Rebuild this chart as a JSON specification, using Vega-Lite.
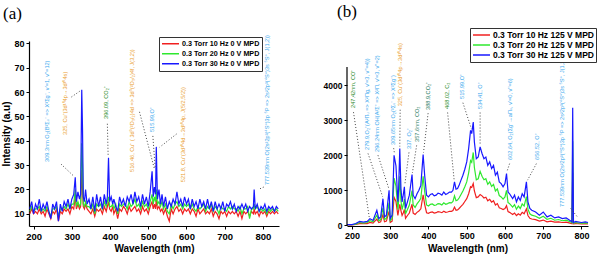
{
  "$schema": "https://vega.github.io/schema/vega-lite/v6.json",
  "background": "white",
  "padding": {"left": 1, "top": 2, "right": 0, "bottom": 0},
  "spacing": 68,
  "bounds": "flush",
  "config": {
    "font": "Liberation Sans",
    "view": {"stroke": null},
    "axis": {
      "grid": false,
      "labelFont": "Liberation Sans",
      "labelFontWeight": "bold",
      "labelColor": "black",
      "labelOverlap": false,
      "titleFont": "Liberation Sans",
      "titleFontWeight": "bold",
      "titleColor": "black",
      "domainColor": "black",
      "domainWidth": 1.2,
      "tickColor": "black",
      "tickWidth": 1,
      "tickSize": 3,
      "labelPadding": 2
    },
    "legend": {
      "labelFont": "Liberation Sans",
      "labelFontWeight": "bold",
      "labelColor": "black",
      "symbolType": "stroke",
      "symbolStrokeWidth": 1.5,
      "strokeColor": "#333333",
      "fillColor": "white",
      "padding": 2,
      "rowPadding": 0,
      "labelOffset": 2
    }
  },
  "resolve": {
    "scale": {"color": "independent", "fill": "independent"},
    "legend": {"color": "independent"}
  },
  "hconcat": [
    {
      "width": 250,
      "height": 185,
      "title": {"text": "(a)", "anchor": "start", "frame": "group", "font": "Liberation Serif", "fontSize": 17, "fontWeight": "normal", "color": "black", "dx": -26, "offset": 12},
      "resolve": {"scale": {"x": "independent", "y": "independent"}, "axis": {"x": "independent", "y": "independent"}},
      "layer": [
        {
          "data": {"values": [
            {"w":190,"h10":10,"h20":11,"h30":12},{"w":195,"h10":12,"h20":13,"h30":15},{"w":200,"h10":10,"h20":11,"h30":10},
            {"w":205,"h10":11,"h20":12,"h30":14},{"w":210,"h10":10,"h20":12,"h30":12},{"w":215,"h10":12,"h20":13,"h30":16},
            {"w":220,"h10":10,"h20":11,"h30":11},{"w":225,"h10":11,"h20":12,"h30":14},{"w":230,"h10":9,"h20":11,"h30":12},
            {"w":235,"h10":12,"h20":13,"h30":15},{"w":240,"h10":10,"h20":11,"h30":11},{"w":245,"h10":8,"h20":9,"h30":8},
            {"w":250,"h10":11,"h20":12,"h30":14},{"w":255,"h10":10,"h20":12,"h30":12},{"w":260,"h10":12,"h20":13,"h30":15},
            {"w":265,"h10":7,"h20":9,"h30":7},{"w":270,"h10":11,"h20":12,"h30":14},{"w":275,"h10":10,"h20":12,"h30":11},
            {"w":280,"h10":12,"h20":13,"h30":15},{"w":285,"h10":11,"h20":12,"h30":13},{"w":290,"h10":12,"h20":14,"h30":16},
            {"w":295,"h10":10,"h20":12,"h30":12},{"w":300,"h10":13,"h20":14,"h30":16},{"w":305,"h10":12,"h20":14,"h30":18},
            {"w":309,"h10":17,"h20":20,"h30":25},{"w":312,"h10":12,"h20":13,"h30":15},{"w":316,"h10":14,"h20":15,"h30":19},
            {"w":320,"h10":12,"h20":13,"h30":16},{"w":323,"h10":13,"h20":14,"h30":18},{"w":326,"h10":28,"h20":39,"h30":61},
            {"w":328,"h10":20,"h20":30,"h30":45},{"w":330,"h10":13,"h20":14,"h30":17},{"w":333,"h10":12,"h20":13,"h30":15},
            {"w":336,"h10":14,"h20":15,"h30":20},{"w":340,"h10":12,"h20":13,"h30":14},{"w":345,"h10":11,"h20":13,"h30":16},
            {"w":350,"h10":10,"h20":12,"h30":12},{"w":355,"h10":12,"h20":14,"h30":17},{"w":360,"h10":9,"h20":10,"h30":11},
            {"w":365,"h10":12,"h20":14,"h30":18},{"w":370,"h10":11,"h20":13,"h30":13},{"w":375,"h10":12,"h20":14,"h30":17},
            {"w":380,"h10":10,"h20":12,"h30":12},{"w":385,"h10":13,"h20":15,"h30":18},{"w":390,"h10":11,"h20":13,"h30":14},
            {"w":393,"h10":13,"h20":15,"h30":17},{"w":396,"h10":15,"h20":17,"h30":33},{"w":399,"h10":12,"h20":13,"h30":15},
            {"w":403,"h10":11,"h20":13,"h30":17},{"w":407,"h10":13,"h20":14,"h30":14},{"w":410,"h10":10,"h20":12,"h30":16},
            {"w":415,"h10":12,"h20":14,"h30":13},{"w":420,"h10":8,"h20":10,"h30":11},{"w":425,"h10":12,"h20":14,"h30":17},
            {"w":430,"h10":11,"h20":13,"h30":14},{"w":435,"h10":13,"h20":14,"h30":16},{"w":440,"h10":12,"h20":14,"h30":13},
            {"w":445,"h10":10,"h20":12,"h30":17},{"w":450,"h10":13,"h20":15,"h30":15},{"w":455,"h10":11,"h20":13,"h30":18},
            {"w":460,"h10":12,"h20":14,"h30":14},{"w":465,"h10":13,"h20":16,"h30":19},{"w":470,"h10":11,"h20":13,"h30":15},
            {"w":475,"h10":12,"h20":14,"h30":17},{"w":480,"h10":10,"h20":12,"h30":13},{"w":485,"h10":13,"h20":15,"h30":18},
            {"w":490,"h10":11,"h20":13,"h30":14},{"w":495,"h10":12,"h20":14,"h30":17},{"w":500,"h10":10,"h20":12,"h30":13},
            {"w":505,"h10":13,"h20":15,"h30":19},{"w":510,"h10":15,"h20":18,"h30":27.5},{"w":513,"h10":12,"h20":14,"h30":17},
            {"w":516,"h10":14,"h20":17,"h30":21},{"w":519,"h10":12,"h20":15,"h30":18},{"w":521,"h10":16,"h20":20,"h30":37.5},
            {"w":524,"h10":12,"h20":14,"h30":16},{"w":528,"h10":13,"h20":15,"h30":20},{"w":532,"h10":11,"h20":13,"h30":14},
            {"w":536,"h10":12,"h20":15,"h30":18},{"w":540,"h10":10,"h20":12,"h30":13},{"w":545,"h10":12,"h20":14,"h30":17},
            {"w":550,"h10":9,"h20":11,"h30":12},{"w":555,"h10":7,"h20":10,"h30":15},{"w":560,"h10":12,"h20":14,"h30":13},
            {"w":565,"h10":10,"h20":12,"h30":16},{"w":570,"h10":12,"h20":14,"h30":14},{"w":575,"h10":13,"h20":15,"h30":19},
            {"w":580,"h10":11,"h20":13,"h30":14},{"w":585,"h10":12,"h20":14,"h30":16},{"w":590,"h10":10,"h20":12,"h30":13},
            {"w":595,"h10":12,"h20":14,"h30":17},{"w":600,"h10":11,"h20":13,"h30":14},{"w":605,"h10":12,"h20":14,"h30":16},
            {"w":610,"h10":10,"h20":12,"h30":12},{"w":615,"h10":12,"h20":14,"h30":16},{"w":620,"h10":11,"h20":12,"h30":13},
            {"w":625,"h10":9,"h20":11,"h30":15},{"w":630,"h10":12,"h20":13,"h30":12},{"w":635,"h10":10,"h20":12,"h30":16},
            {"w":640,"h10":11,"h20":13,"h30":13},{"w":645,"h10":12,"h20":14,"h30":15},{"w":650,"h10":10,"h20":11,"h30":12},
            {"w":655,"h10":11,"h20":13,"h30":16},{"w":660,"h10":10,"h20":12,"h30":12},{"w":665,"h10":12,"h20":14,"h30":15},
            {"w":670,"h10":9,"h20":11,"h30":11},{"w":675,"h10":11,"h20":13,"h30":15},{"w":680,"h10":10,"h20":12,"h30":12},
            {"w":685,"h10":8,"h20":10,"h30":14},{"w":690,"h10":11,"h20":13,"h30":12},{"w":695,"h10":10,"h20":12,"h30":15},
            {"w":700,"h10":11,"h20":12,"h30":11},{"w":705,"h10":9,"h20":11,"h30":14},{"w":710,"h10":11,"h20":13,"h30":13},
            {"w":715,"h10":10,"h20":12,"h30":15},{"w":720,"h10":11,"h20":13,"h30":12},{"w":725,"h10":10,"h20":12,"h30":14},
            {"w":730,"h10":11,"h20":12,"h30":11},{"w":735,"h10":9,"h20":11,"h30":13},{"w":740,"h10":11,"h20":13,"h30":12},
            {"w":745,"h10":8,"h20":10,"h30":14},{"w":750,"h10":11,"h20":12,"h30":12},{"w":755,"h10":10,"h20":12,"h30":14},
            {"w":760,"h10":11,"h20":13,"h30":11},{"w":765,"h10":9,"h20":8,"h30":13},{"w":770,"h10":11,"h20":12,"h30":12},
            {"w":775,"h10":10,"h20":12,"h30":13},{"w":777,"h10":12,"h20":14,"h30":20},{"w":780,"h10":10,"h20":12,"h30":12},
            {"w":785,"h10":11,"h20":13,"h30":14},{"w":790,"h10":9,"h20":11,"h30":11},{"w":795,"h10":11,"h20":12,"h30":13},
            {"w":800,"h10":10,"h20":11,"h30":12},{"w":805,"h10":11,"h20":12,"h30":14},{"w":810,"h10":9,"h20":10,"h30":11},
            {"w":815,"h10":11,"h20":12,"h30":13},{"w":820,"h10":10,"h20":11,"h30":12},{"w":825,"h10":11,"h20":12,"h30":13},
            {"w":830,"h10":10,"h20":11,"h30":11},{"w":835,"h10":11,"h20":12,"h30":13},{"w":840,"h10":10,"h20":11,"h30":12}
          ]},
          "transform": [{"fold": ["h10", "h20", "h30"], "as": ["s", "v"]}],
          "mark": {"type": "line", "strokeWidth": 1.2},
          "encoding": {
            "x": {"field": "w", "type": "quantitative", "title": "Wavelength (nm)",
                  "scale": {"domain": [188, 842], "nice": false, "zero": false},
                  "axis": {"values": [200, 300, 400, 500, 600, 700, 800], "format": "d", "labelFontSize": 9.5, "titleFontSize": 10, "titlePadding": 3}},
            "y": {"field": "v", "type": "quantitative", "title": "Intensity (a.u)",
                  "scale": {"domain": [5, 81], "nice": false, "zero": false},
                  "axis": {"values": [10, 20, 30, 40, 50, 60, 70, 80], "format": "d", "labelOverlap": false, "labelFontSize": 9, "titleFontSize": 10, "titlePadding": 2}},
            "color": {"field": "s", "type": "nominal",
                      "scale": {"domain": ["h10", "h20", "h30"], "range": ["#f02020", "#2ee82e", "#1818ff"]},
                      "legend": {"title": null, "orient": "none", "legendX": 130, "legendY": -4,
                                 "labelExpr": "'0.3 Torr ' + slice(datum.label, 1) + ' Hz 0 V MPD'",
                                 "labelFontSize": 7.2, "symbolSize": 289, "clipHeight": 9.3}}
          }
        },
        {
          "data": {"name": "notesA", "values": [
            {"t": "309.3nm O₂(B³Σᵤ⁻ => X³Σg⁻, v'=1, v''=12)", "k": "O", "tx": 235, "ty": 31.3, "x1": 272, "y1": 30.4, "x2": 305, "y2": 25.5},
            {"t": "325, Cu⁺(3d¹⁰4p→3d¹⁰4s)", "k": "Cu", "tx": 282, "ty": 42.4, "x1": 299, "y1": 58, "x2": 322, "y2": 60.5},
            {"t": "396.09, CO₂⁺", "k": "C", "tx": 390, "ty": 49, "x1": 393, "y1": 47, "x2": 395, "y2": 34},
            {"t": "516.46, Cu⁺ ( 3d⁹(²D₃/₂)4d => 3d⁹(²D₃/₂)4f, J(3,2))", "k": "Cu", "tx": 457, "ty": 27.2, "x1": 477, "y1": 51.9, "x2": 516, "y2": 28.5},
            {"t": "515.99,O⁺", "k": "O", "tx": 511, "ty": 43.6, "x1": 512, "y1": 42, "x2": 518, "y2": 29},
            {"t": "521.8, Cu⁺(3d¹⁰4d→3d¹⁰4p, J(5/2,5/2))", "k": "Cu", "tx": 590, "ty": 23, "x1": 574, "y1": 42.8, "x2": 530, "y2": 37.4},
            {"t": "777.539nm O(2s²2p³(⁴S°)3p ⁵P => 2s²2p³(⁴S°)3s ⁵S°, J(1,2))", "k": "O", "tx": 811, "ty": 21.8, "x1": 802, "y1": 21, "x2": 788, "y2": 20}
          ]},
          "mark": {"type": "rule", "strokeDash": [1, 2], "color": "#444444", "strokeWidth": 1},
          "encoding": {
            "x": {"field": "x1", "type": "quantitative", "axis": null, "scale": {"domain": [188, 842], "nice": false, "zero": false}},
            "y": {"field": "y1", "type": "quantitative", "axis": null, "scale": {"domain": [5, 81], "nice": false, "zero": false}},
            "x2": {"field": "x2"},
            "y2": {"field": "y2"}
          }
        },
        {
          "data": {"name": "notesA"},
          "mark": {"type": "text", "angle": 270, "align": "left", "baseline": "middle", "fontSize": 5.6, "font": "Liberation Sans"},
          "encoding": {
            "x": {"field": "tx", "type": "quantitative", "axis": null, "scale": {"domain": [188, 842], "nice": false, "zero": false}},
            "y": {"field": "ty", "type": "quantitative", "axis": null, "scale": {"domain": [5, 81], "nice": false, "zero": false}},
            "text": {"field": "t"},
            "fill": {"field": "k", "type": "nominal", "legend": null,
                     "scale": {"domain": ["O", "Cu", "C", "T"], "range": ["#3aa8ee", "#eaa030", "#1f8a1f", "#267a5e"]}}
          }
        }
      ]
    },
    {
      "width": 241,
      "height": 185,
      "title": {"text": "(b)", "anchor": "start", "frame": "group", "font": "Liberation Serif", "fontSize": 17, "fontWeight": "normal", "color": "black", "dx": -10, "offset": 7},
      "resolve": {"scale": {"x": "independent", "y": "independent"}, "axis": {"x": "independent", "y": "independent"}},
      "layer": [
        {
          "data": {"values": [
            {"w":187,"h10":10,"h20":15,"h30":20},{"w":200,"h10":10,"h20":15,"h30":20},{"w":210,"h10":25,"h20":35,"h30":50},
            {"w":220,"h10":50,"h20":80,"h30":110},{"w":230,"h10":45,"h20":65,"h30":90},{"w":240,"h10":50,"h20":80,"h30":110},
            {"w":247,"h10":80,"h20":130,"h30":190},{"w":255,"h10":60,"h20":100,"h30":140},{"w":265,"h10":180,"h20":290,"h30":430},
            {"w":270,"h10":80,"h20":130,"h30":190},{"w":275,"h10":100,"h20":165,"h30":240},{"w":281,"h10":300,"h20":500,"h30":760},
            {"w":285,"h10":100,"h20":165,"h30":240},{"w":290,"h10":120,"h20":200,"h30":290},{"w":297,"h10":400,"h20":650,"h30":1000},
            {"w":300,"h10":80,"h20":130,"h30":190},{"w":305,"h10":120,"h20":200,"h30":290},{"w":310,"h10":800,"h20":1350,"h30":2000},
            {"w":315,"h10":680,"h20":1120,"h30":1700},{"w":320,"h10":280,"h20":450,"h30":670},{"w":322,"h10":420,"h20":700,"h30":1050},
            {"w":325,"h10":600,"h20":1400,"h30":2190},{"w":328,"h10":420,"h20":700,"h30":1050},{"w":331,"h10":280,"h20":450,"h30":670},
            {"w":334,"h10":350,"h20":580,"h30":860},{"w":337,"h10":450,"h20":750,"h30":1100},{"w":340,"h10":200,"h20":330,"h30":480},
            {"w":345,"h10":280,"h20":450,"h30":670},{"w":350,"h10":350,"h20":580,"h30":860},{"w":357,"h10":600,"h20":990,"h30":1450},
            {"w":360,"h10":350,"h20":580,"h30":860},{"w":365,"h10":310,"h20":510,"h30":760},{"w":370,"h10":370,"h20":610,"h30":900},
            {"w":375,"h10":410,"h20":680,"h30":1000},{"w":380,"h10":470,"h20":770,"h30":1140},{"w":386,"h10":870,"h20":1400,"h30":2020},
            {"w":390,"h10":600,"h20":970,"h30":1430},{"w":395,"h10":360,"h20":580,"h30":860},{"w":400,"h10":340,"h20":550,"h30":810},
            {"w":405,"h10":370,"h20":600,"h30":880},{"w":410,"h10":380,"h20":610,"h30":900},{"w":415,"h10":350,"h20":570,"h30":840},
            {"w":420,"h10":360,"h20":580,"h30":860},{"w":425,"h10":390,"h20":620,"h30":920},{"w":430,"h10":380,"h20":610,"h30":900},
            {"w":435,"h10":360,"h20":580,"h30":860},{"w":440,"h10":400,"h20":640,"h30":950},{"w":445,"h10":370,"h20":600,"h30":880},
            {"w":450,"h10":380,"h20":620,"h30":910},{"w":455,"h10":400,"h20":650,"h30":950},{"w":460,"h10":400,"h20":640,"h30":950},
            {"w":464,"h10":420,"h20":680,"h30":1000},{"w":468,"h10":520,"h20":840,"h30":1240},{"w":472,"h10":430,"h20":700,"h30":1030},
            {"w":476,"h10":440,"h20":720,"h30":1050},{"w":480,"h10":480,"h20":780,"h30":1140},{"w":485,"h10":540,"h20":880,"h30":1290},
            {"w":490,"h10":600,"h20":980,"h30":1430},{"w":495,"h10":680,"h20":1100,"h30":1600},{"w":500,"h10":760,"h20":1240,"h30":1810},
            {"w":505,"h10":900,"h20":1500,"h30":2190},{"w":510,"h10":1100,"h20":1850,"h30":2710},{"w":513,"h10":1080,"h20":1800,"h30":2620},
            {"w":517,"h10":1190,"h20":2080,"h30":2950},{"w":520,"h10":980,"h20":1650,"h30":2380},{"w":525,"h10":790,"h20":1300,"h30":1900},
            {"w":530,"h10":810,"h20":1330,"h30":1950},{"w":535,"h10":880,"h20":1540,"h30":2240},{"w":540,"h10":840,"h20":1400,"h30":2050},
            {"w":545,"h10":780,"h20":1300,"h30":1900},{"w":550,"h10":800,"h20":1330,"h30":1950},{"w":555,"h10":700,"h20":1170,"h30":1710},
            {"w":560,"h10":740,"h20":1240,"h30":1810},{"w":565,"h10":660,"h20":1110,"h30":1620},{"w":570,"h10":700,"h20":1170,"h30":1710},
            {"w":575,"h10":580,"h20":980,"h30":1430},{"w":580,"h10":620,"h20":1040,"h30":1520},{"w":585,"h10":500,"h20":850,"h30":1240},
            {"w":590,"h10":480,"h20":810,"h30":1190},{"w":595,"h10":450,"h20":750,"h30":1100},{"w":600,"h10":480,"h20":810,"h30":1190},
            {"w":604,"h10":560,"h20":1000,"h30":1480},{"w":608,"h10":390,"h20":650,"h30":950},{"w":612,"h10":370,"h20":620,"h30":900},
            {"w":620,"h10":310,"h20":520,"h30":760},{"w":625,"h10":350,"h20":590,"h30":860},{"w":630,"h10":280,"h20":460,"h30":670},
            {"w":635,"h10":330,"h20":550,"h30":810},{"w":640,"h10":290,"h20":480,"h30":710},{"w":645,"h10":370,"h20":610,"h30":900},
            {"w":650,"h10":330,"h20":550,"h30":810},{"w":656,"h10":470,"h20":820,"h30":1240},{"w":660,"h10":280,"h20":460,"h30":670},
            {"w":665,"h10":200,"h20":330,"h30":480},{"w":670,"h10":180,"h20":290,"h30":430},{"w":680,"h10":160,"h20":260,"h30":380},
            {"w":690,"h10":120,"h20":200,"h30":290},{"w":700,"h10":150,"h20":260,"h30":380},{"w":710,"h10":100,"h20":170,"h30":240},
            {"w":720,"h10":120,"h20":200,"h30":290},{"w":730,"h10":90,"h20":145,"h30":210},{"w":740,"h10":100,"h20":165,"h30":240},
            {"w":750,"h10":80,"h20":130,"h30":190},{"w":760,"h10":90,"h20":145,"h30":210},{"w":770,"h10":60,"h20":100,"h30":140},
            {"w":775,"h10":45,"h20":70,"h30":100},{"w":777,"h10":1500,"h20":2400,"h30":3360},{"w":779,"h10":40,"h20":60,"h30":80},
            {"w":785,"h10":50,"h20":80,"h30":110},{"w":790,"h10":45,"h20":70,"h30":100},{"w":800,"h10":40,"h20":60,"h30":80},
            {"w":810,"h10":45,"h20":70,"h30":100},{"w":817,"h10":40,"h20":60,"h30":80}
          ]},
          "transform": [{"fold": ["h10", "h20", "h30"], "as": ["s", "v"]}],
          "mark": {"type": "line", "strokeWidth": 1.2},
          "encoding": {
            "x": {"field": "w", "type": "quantitative", "title": "Wavelength (nm)",
                  "scale": {"domain": [187, 817], "nice": false, "zero": false},
                  "axis": {"values": [200, 300, 400, 500, 600, 700, 800], "format": "d", "labelFontSize": 9, "titleFontSize": 10, "titlePadding": 3}},
            "y": {"field": "v", "type": "quantitative", "title": null,
                  "scale": {"domain": [-20, 5263], "nice": false, "zero": false},
                  "axis": {"values": [0, 1000, 2000, 3000, 4000], "format": "d", "domain": false, "labelFontSize": 8.5}},
            "color": {"field": "s", "type": "nominal",
                      "scale": {"domain": ["h10", "h20", "h30"], "range": ["#f02020", "#2ee82e", "#1818ff"]},
                      "legend": {"title": null, "orient": "none", "legendX": 123, "legendY": -13,
                                 "labelExpr": "'0.3 Torr ' + slice(datum.label, 1) + ' Hz 125 V MPD'",
                                 "labelFontSize": 8.5, "symbolSize": 289, "clipHeight": 10}}
          }
        },
        {
          "data": {"values": [{}]},
          "mark": {"type": "rule", "color": "black", "strokeWidth": 1.2},
          "encoding": {
            "x": {"datum": 187, "type": "quantitative", "axis": null, "scale": {"domain": [187, 817], "nice": false, "zero": false}},
            "y": {"datum": -20, "type": "quantitative", "axis": null, "scale": {"domain": [-20, 5263], "nice": false, "zero": false}},
            "y2": {"datum": 4520}
          }
        },
        {
          "data": {"name": "notesB", "values": [
            {"t": "247.42nm, CO⁺", "k": "C", "tx": 203, "ty": 3351, "x1": 204, "y1": 3230, "x2": 245, "y2": 240},
            {"t": "279.9,O₂⁺(A²Πᵤ => X²Πg, v'=3, v''=4))", "k": "O", "tx": 240, "ty": 2151, "x1": 242, "y1": 2050, "x2": 280, "y2": 820},
            {"t": "296.24nm OH(A²Σ⁺ => X²Π, v'=3, v''=2)", "k": "O", "tx": 266, "ty": 2094, "x1": 268, "y1": 2000, "x2": 296, "y2": 1060},
            {"t": "309.65nm O₂(³Σᵤ⁻ => X³Σg⁻)", "k": "O", "tx": 308, "ty": 2294, "x1": 309, "y1": 2200, "x2": 311, "y2": 2060},
            {"t": "325, Cu⁺(3d¹⁰4p→3d¹⁰4s)", "k": "Cu", "tx": 326, "ty": 3400, "x1": 326, "y1": 3300, "x2": 325, "y2": 2250},
            {"t": "337, O₂⁺", "k": "O", "tx": 350, "ty": 2180, "x1": 349, "y1": 2080, "x2": 338, "y2": 1150},
            {"t": "357.6nm, CO₂", "k": "T", "tx": 370, "ty": 2380, "x1": 369, "y1": 2280, "x2": 358, "y2": 1500},
            {"t": "388.9,CO₂⁺", "k": "T", "tx": 400, "ty": 3294, "x1": 399, "y1": 3200, "x2": 387, "y2": 2080},
            {"t": "468.02, C₂", "k": "C", "tx": 448, "ty": 3323, "x1": 450, "y1": 3220, "x2": 467, "y2": 1300},
            {"t": "515.99,O⁺", "k": "O", "tx": 487, "ty": 3609, "x1": 490, "y1": 3500, "x2": 512, "y2": 2760},
            {"t": "534.41, O⁺", "k": "O", "tx": 535, "ty": 3323, "x1": 535, "y1": 3220, "x2": 535, "y2": 2300},
            {"t": "602.64, O₂(Σg⁺→aΠᵤ, v'=0, v''=6)", "k": "O", "tx": 613, "ty": 1866, "x1": 612, "y1": 1760, "x2": 605, "y2": 1530},
            {"t": "656.52, O⁺", "k": "O", "tx": 684, "ty": 1866, "x1": 682, "y1": 1760, "x2": 659, "y2": 1290},
            {"t": "777.539nm O(2s²2p³(⁴S°)3p ⁵P => 2s²2p³(⁴S°)3s ⁵S°, J(1,2))", "k": "O", "tx": 749, "ty": 523, "x1": 772, "y1": 480, "x2": 790, "y2": 230}
          ]},
          "mark": {"type": "rule", "strokeDash": [1, 2], "color": "#444444", "strokeWidth": 1},
          "encoding": {
            "x": {"field": "x1", "type": "quantitative", "axis": null, "scale": {"domain": [187, 817], "nice": false, "zero": false}},
            "y": {"field": "y1", "type": "quantitative", "axis": null, "scale": {"domain": [-20, 5263], "nice": false, "zero": false}},
            "x2": {"field": "x2"},
            "y2": {"field": "y2"}
          }
        },
        {
          "data": {"name": "notesB"},
          "mark": {"type": "text", "angle": 270, "align": "left", "baseline": "middle", "fontSize": 5.6, "font": "Liberation Sans"},
          "encoding": {
            "x": {"field": "tx", "type": "quantitative", "axis": null, "scale": {"domain": [187, 817], "nice": false, "zero": false}},
            "y": {"field": "ty", "type": "quantitative", "axis": null, "scale": {"domain": [-20, 5263], "nice": false, "zero": false}},
            "text": {"field": "t"},
            "fill": {"field": "k", "type": "nominal", "legend": null,
                     "scale": {"domain": ["O", "Cu", "C", "T"], "range": ["#3aa8ee", "#eaa030", "#1f8a1f", "#267a5e"]}}
          }
        }
      ]
    }
  ]
}
